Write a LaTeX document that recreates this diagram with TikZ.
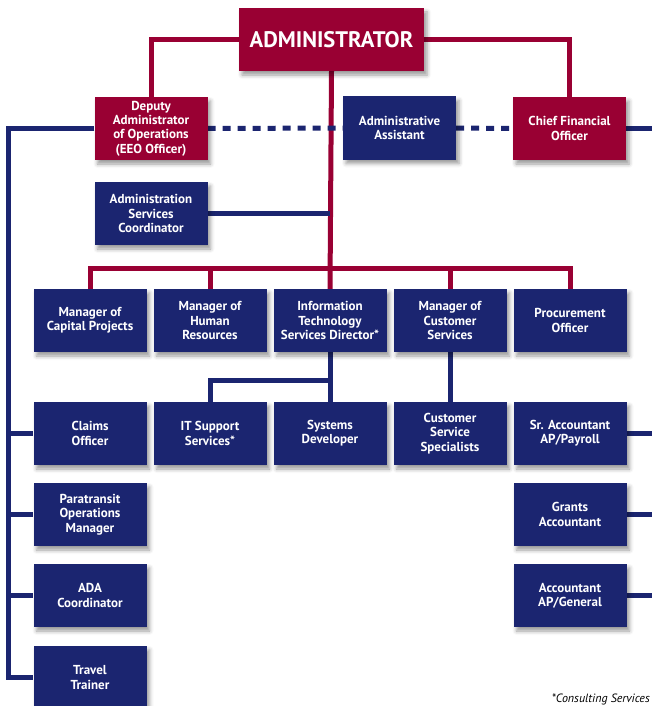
\documentclass[tikz,border=0pt]{standalone}
\usepackage{fontspec}
\setmainfont{PT Sans}
\usepackage{tikz}
\usetikzlibrary{positioning,shadows.blur}
\definecolor{admred}{RGB}{153,0,51}
\definecolor{admblue}{RGB}{27,37,112}
\pgfdeclarelayer{bg}
\pgfsetlayers{bg,main}

\begin{document}
\begin{tikzpicture}[x=1pt,y=1pt,node distance=120pt,
    unit/.style={fill=admblue,text=white,font=\bfseries\fontsize{13}{14.3}\selectfont,align=center,
        minimum width=113pt,minimum height=63pt,inner sep=1pt,
        blur shadow={shadow xshift=3pt,shadow yshift=-4pt,shadow blur radius=4pt}},
    head/.style={unit,fill=admred},
    redline/.style={draw=admred,line width=5pt},
    blueline/.style={draw=admblue,line width=5pt},
    dotline/.style={blueline,dash pattern=on 8pt off 7pt},
    note/.style={font=\itshape\fontsize{12}{14}\selectfont,inner sep=0pt}]
        \useasboundingbox (0,0) rectangle (652,-706);
        \coordinate (ledge) at (8,0);
        \coordinate (redge) at (660,0);
        \coordinate (rbus) at (0,-268);
        \coordinate (itbus) at (0,-380);

        \node[head,minimum width=185pt,font=\bfseries\fontsize{22.5}{26}\selectfont] (adm) at (331.5,-39.5) {ADMINISTRATOR};
        \node[head] (dep) at (151,-128.5) {Deputy\\Administrator\\of Operations\\(EEO Officer)};
        \node[unit] (aa) at (399.5,-128) {Administrative\\Assistant};
        \node[head] (cfo) at (569.5,-128.5) {Chief Financial\\Officer};
        \node[unit] (asc) [below of=dep,node distance=85pt] {Administration\\Services\\Coordinator};

        \node[unit] (it) at (330,-320.5) {Information\\Technology\\Services Director*};
        \node[unit] (hr) [left of=it] {Manager of\\Human\\Resources};
        \node[unit] (cap) [left of=hr] {Manager of\\Capital Projects};
        \node[unit] (cs) [right of=it] {Manager of\\Customer\\Services};
        \node[unit] (proc) [right of=cs] {Procurement\\Officer};

        \node[unit] (sd) [below of=it,node distance=113pt] {Systems\\Developer};
        \node[unit] (its) [left of=sd] {IT Support\\Services*};
        \node[unit] (claims) [left of=its] {Claims\\Officer};
        \node[unit] (css) [right of=sd] {Customer\\Service\\Specialists};
        \node[unit] (sra) [right of=css] {Sr. Accountant\\AP/Payroll};

        \node[unit] (para) [below of=claims,node distance=81pt] {Paratransit\\Operations\\Manager};
        \node[unit] (ada) [below of=para,node distance=81pt] {ADA\\Coordinator};
        \node[unit] (tt) [below of=ada,node distance=82pt] {Travel\\Trainer};
        \node[unit] (ga) [below of=sra,node distance=81pt] {Grants\\Accountant};
        \node[unit] (acc) [below of=ga,node distance=81pt] {Accountant\\AP/General};

        \node[note] (fn) at (650,-702) [anchor=base east] {*Consulting Services};

        \begin{pgfonlayer}{bg}
        \draw[redline] (adm.west) -| (dep.north);
        \draw[redline] (adm.east) -| (cfo.north);
        \draw[redline] (adm.south) -- (it.north);
        \draw[redline] (cap.north) -- (cap.north |- rbus) -- (proc.north |- rbus) -- (proc.north);
        \draw[redline] (hr.north) -- (hr.north |- rbus);
        \draw[redline] (cs.north) -- (cs.north |- rbus);

        \draw[dotline] (dep.east) -- (aa.west);
        \draw[dotline] (aa.east) -- (cfo.west);
        \draw[blueline] (asc.east) -- (asc.east -| it.north);

        \draw[blueline] (dep.west) -- (dep.west -| ledge) -- (tt.west -| ledge) -- (tt.west);
        \draw[blueline] (claims.west -| ledge) -- (claims.west);
        \draw[blueline] (para.west -| ledge) -- (para.west);
        \draw[blueline] (ada.west -| ledge) -- (ada.west);

        \draw[blueline] (it.south) -- (sd.north);
        \draw[blueline] (its.north) -- (its.north |- itbus) -- (it.south |- itbus);
        \draw[blueline] (cs.south) -- (css.north);

        \draw[blueline] (cfo.east) -- (cfo.east -| redge);
        \draw[blueline] (sra.east) -- (sra.east -| redge);
        \draw[blueline] (ga.east) -- (ga.east -| redge);
        \draw[blueline] (acc.east) -- (acc.east -| redge);
        \end{pgfonlayer}
    \end{tikzpicture}
\end{document}
